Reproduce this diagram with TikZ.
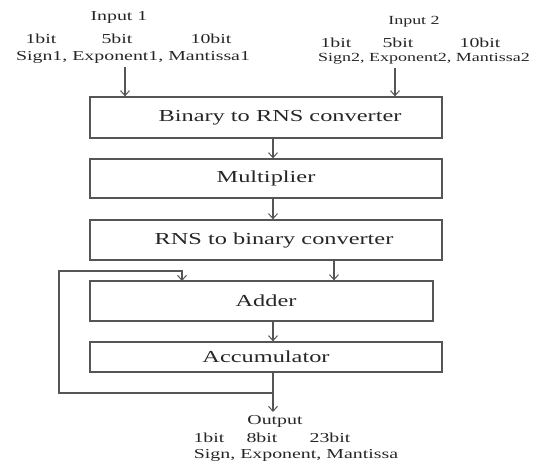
\documentclass[tikz,border=0pt]{standalone}
\usepackage{fontspec}
\setmainfont{Liberation Serif}[FakeStretch=1.45]
\usetikzlibrary{arrows.meta}
\definecolor{ln}{HTML}{555555}
\definecolor{tx}{HTML}{262626}
\begin{document}
\begin{tikzpicture}[x=1pt,y=-1pt,
  blk/.style={draw=ln,line width=1.3pt,rectangle,inner sep=0pt,text=tx,font=\fontsize{16.8}{18}\selectfont},
  lbl/.style={inner sep=0pt,text=tx,font=\fontsize{13.7}{15}\selectfont},
  lbls/.style={lbl,font=\fontsize{12.4}{14}\selectfont},
  conn/.style={draw=ln,line width=1.2pt,-{Straight Barb[length=5pt,width=9pt,line width=1pt]}},
  wire/.style={draw=ln,line width=1.2pt}]
\useasboundingbox (0,0) rectangle (554,464);
% blocks
\node[blk,minimum width=352pt,minimum height=41pt] (b2r) at (266,117.5) {\hspace*{28pt}Binary to RNS converter};
\node[blk,minimum width=352pt,minimum height=39pt] (mul) at (266,178.5) {Multiplier};
\node[blk,minimum width=352pt,minimum height=40pt] (r2b) at (266,240) {\hspace*{16pt}RNS to binary converter};
\node[blk,minimum width=343pt,minimum height=40pt] (add) at (261.5,301) {\hspace*{9pt}Adder};
\node[blk,minimum width=352pt,minimum height=30pt] (acc) at (266,357) {Accumulator};
% input 1
\node[lbl] (in1) at (119,17) {Input 1};
\node[lbl] (in1a) at (41,39) {1bit};
\node[lbl] (in1b) at (117,39) {5bit};
\node[lbl] (in1c) at (211,39) {10bit};
\node[lbl] (in1d) at (133,57) {Sign1, Exponent1, Mantissa1};
% input 2
\node[lbls] (in2) at (414,22) {Input 2};
\node[lbl] (in2a) at (336,43) {1bit};
\node[lbl] (in2b) at (398,43) {5bit};
\node[lbl] (in2c) at (480,43) {10bit};
\node[lbls] (in2d) at (424,59) {Sign2, Exponent2, Mantissa2};
% output
\node[lbl] (out) at (275,421) {Output};
\node[lbl] (outa) at (209,438) {1bit};
\node[lbl] (outb) at (262,438) {8bit};
\node[lbl] (outc) at (330,438) {23bit};
\node[lbl] (outd) at (296,455) {Sign, Exponent, Mantissa};
% coordinates
\coordinate (s1) at (125,67);
\coordinate (s2) at (395,68);
\coordinate (o1) at (273,412);
\coordinate (lp) at (273,393);
% connectors
\draw[conn] (s1) -- (s1 |- b2r.north);
\draw[conn] (s2) -- (s2 |- b2r.north);
\draw[conn] ([xshift=7pt]b2r.south) -- ([xshift=7pt]mul.north);
\draw[conn] ([xshift=7pt]mul.south) -- ([xshift=7pt]r2b.north);
\draw[conn] ([xshift=68pt]r2b.south) -- ([xshift=68pt]r2b.south |- add.north);
\draw[conn] ([xshift=273pt-261.5pt]add.south) -- ([xshift=273pt-261.5pt]add.south |- acc.north);
\draw[conn] (acc.south -| o1) -- (o1);
\draw[wire] (lp) -- (59,393) -- (59,271) -- (182,271);
\draw[conn] (182,270.4) -- (182,281);
\end{tikzpicture}
\end{document}
